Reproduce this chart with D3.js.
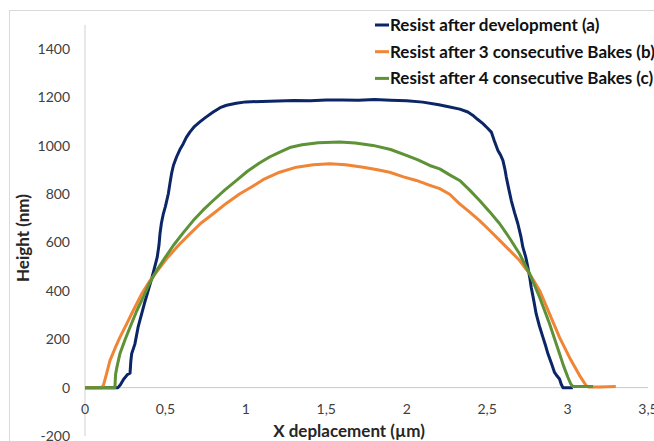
<!DOCTYPE html>
<html>
<head>
<meta charset="utf-8">
<script src="https://cdn.jsdelivr.net/npm/d3@7"></script>
<style>
  body { margin: 0; background: #fff; }
  svg { display: block; font-family: Lato, "Open Sans", sans-serif; }
  .tick-label { font-size: 14px; fill: #404040; }
  .axis-title { font-size: 17px; font-weight: bold; fill: #262626; }
  .legend-text { font-size: 17px; font-weight: bold; fill: #111; }
</style>
</head>
<body>
<svg id="chart" width="654" height="441"></svg>
<script>
// series names + colours
let seriesNames = ['Resist after development (a)', 'Resist after 3 consecutive Bakes (b)', 'Resist after 4 consecutive Bakes (c)']
let seriesColors = ['#0b2566', '#ef8535', '#5e9236']

let xTicks = [0, 0.5, 1, 1.5, 2, 2.5, 3, 3.5]
let yTicks = [-200, 0, 200, 400, 600, 800, 1000, 1200, 1400]

// resist after development (a)
let xA = [0, 0.10, 0.205, 0.22, 0.24, 0.265, 0.28, 0.285, 0.29, 0.31, 0.33, 0.35, 0.37, 0.39, 0.414, 0.43, 0.449, 0.46, 0.466, 0.475, 0.487, 0.50, 0.518, 0.528, 0.538, 0.55, 0.569, 0.59, 0.611, 0.63, 0.652, 0.68, 0.714, 0.75, 0.797, 0.84, 0.88, 0.94, 1.0, 1.1, 1.2, 1.3, 1.4, 1.5, 1.6, 1.7, 1.8, 1.9, 2.0, 2.1, 2.2, 2.26, 2.33, 2.38, 2.41, 2.44, 2.474, 2.50, 2.526, 2.545, 2.567, 2.585, 2.598, 2.61, 2.619, 2.635, 2.65, 2.67, 2.691, 2.71, 2.722, 2.74, 2.753, 2.765, 2.774, 2.79, 2.805, 2.825, 2.847, 2.865, 2.878, 2.90, 2.919, 2.935, 2.95, 2.96, 2.971, 3.0, 3.033]
let hA = [0, 0, 0, 12, 35, 55, 60, 110, 140, 180, 250, 300, 350, 395, 450, 490, 540, 590, 636, 680, 719, 750, 802, 845, 885, 920, 954, 985, 1009, 1035, 1057, 1080, 1099, 1118, 1140, 1158, 1168, 1176, 1182, 1184, 1186, 1188, 1187, 1190, 1190, 1189, 1192, 1189, 1187, 1181, 1170, 1162, 1152, 1140, 1127, 1110, 1092, 1075, 1057, 1020, 981, 960, 940, 905, 871, 820, 774, 725, 678, 625, 581, 540, 498, 455, 415, 360, 305, 255, 208, 170, 140, 100, 63, 48, 36, 15, 0, 0, 0]

// resist after 3 bakes (b)
let xB = [0, 0.10, 0.114, 0.135, 0.155, 0.185, 0.217, 0.26, 0.30, 0.35, 0.404, 0.45, 0.507, 0.58, 0.652, 0.72, 0.797, 0.88, 0.963, 1.03, 1.107, 1.21, 1.315, 1.42, 1.522, 1.62, 1.729, 1.81, 1.894, 1.98, 2.06, 2.14, 2.205, 2.267, 2.329, 2.39, 2.453, 2.515, 2.578, 2.64, 2.702, 2.764, 2.826, 2.888, 2.95, 3.012, 3.075, 3.116, 3.13, 3.2, 3.30]
let hB = [0, 0, 8, 60, 112, 160, 208, 265, 319, 385, 443, 483, 533, 588, 636, 680, 719, 763, 802, 828, 860, 891, 912, 922, 926, 922, 912, 902, 891, 872, 857, 838, 823, 800, 760, 727, 691, 651, 609, 568, 526, 471, 402, 305, 208, 125, 50, 8, 3, 3, 5]

// resist after 4 bakes (c)
let xC = [0, 0.10, 0.186, 0.19, 0.20, 0.217, 0.25, 0.28, 0.32, 0.362, 0.40, 0.445, 0.50, 0.549, 0.61, 0.673, 0.735, 0.797, 0.87, 0.942, 1.01, 1.087, 1.15, 1.211, 1.273, 1.35, 1.45, 1.584, 1.68, 1.79, 1.9, 1.998, 2.07, 2.143, 2.205, 2.267, 2.329, 2.39, 2.453, 2.515, 2.578, 2.64, 2.702, 2.764, 2.826, 2.888, 2.95, 2.975, 3.002, 3.02, 3.033, 3.1, 3.158]
let hC = [0, 0, 0, 55, 90, 140, 200, 250, 315, 374, 430, 484, 540, 588, 640, 691, 735, 774, 818, 857, 895, 930, 955, 974, 993, 1005, 1013, 1016, 1012, 1002, 985, 961, 942, 919, 905, 880, 857, 818, 774, 728, 678, 618, 553, 471, 374, 264, 140, 90, 43, 15, 5, 5, 5]

let svg = d3.select('#chart')

// outer chart frame
svg.append('rect').attr('x', 9.5).attr('y', 10.5).attr('width', 700).attr('height', 500)
   .attr('fill', 'none').attr('stroke', '#d9d9d9')

let xScale = d3.scaleLinear().domain([0, 3.5]).range([85, 648])
let yScale = d3.scaleLinear().domain([-200, 1500]).range([436, 25])

// axis lines (Excel style, no tick marks)
svg.append('line').attr('x1', xScale(0)).attr('x2', xScale(0)).attr('y1', yScale(1500)).attr('y2', yScale(-200))
   .attr('stroke', '#d0d0d0').attr('stroke-width', 1)
svg.append('line').attr('x1', xScale(0)).attr('x2', xScale(3.5)).attr('y1', yScale(0)).attr('y2', yScale(0))
   .attr('stroke', '#c8c8c8').attr('stroke-width', 1)

let fmt = d => String(d).replace('.', ',')

svg.append('g').selectAll('text').data(yTicks).join('text')
   .attr('class', 'tick-label').attr('x', 70).attr('y', d => yScale(d)).attr('dy', '0.35em')
   .attr('text-anchor', 'end').text(d => d)

svg.append('g').selectAll('text').data(xTicks).join('text')
   .attr('class', 'tick-label').attr('x', d => xScale(d)).attr('y', 409).attr('dy', '0.35em')
   .attr('text-anchor', 'middle').text(fmt)

svg.append('text').attr('class', 'axis-title').attr('x', 349).attr('y', 437)
   .attr('text-anchor', 'middle').text('X deplacement (µm)')
svg.append('text').attr('class', 'axis-title').attr('transform', 'translate(29,238) rotate(-90)')
   .attr('text-anchor', 'middle').text('Height (nm)')

let allSeries = [[xA, hA], [xB, hB], [xC, hC]].map(([xs, hs], i) => ({
    name: seriesNames[i], color: seriesColors[i],
    values: xs.map((x, j) => ({x: x, h: hs[j]}))
}))

let line = d3.line().x(d => xScale(d.x)).y(d => yScale(d.h))

svg.append('g').selectAll('path').data(allSeries).join('path')
   .attr('fill', 'none').attr('stroke', d => d.color).attr('stroke-width', 3)
   .attr('stroke-linejoin', 'round').attr('d', d => line(d.values))

// legend
let legend = svg.append('g').selectAll('g').data(allSeries).join('g')
   .attr('transform', (d, i) => `translate(375,${25 + i * 26.7})`)
legend.append('line').attr('x1', 0).attr('x2', 14).attr('stroke', d => d.color).attr('stroke-width', 3)
legend.append('text').attr('class', 'legend-text').attr('x', 15).attr('dy', '0.35em').text(d => d.name)
</script>
</body>
</html>
